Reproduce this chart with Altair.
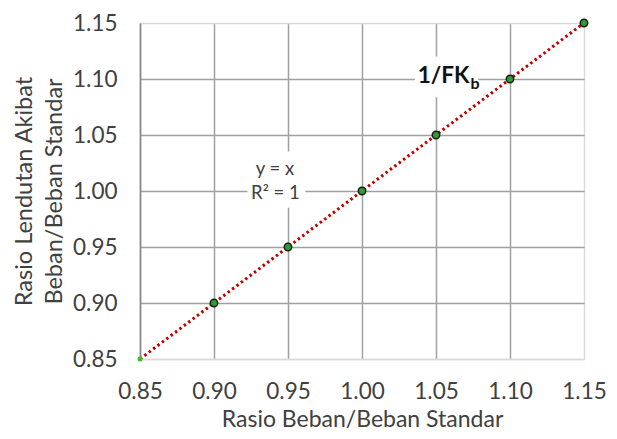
import altair as alt
import pandas as pd

# data
load_ratio = [0.85, 0.90, 0.95, 1.00, 1.05, 1.10, 1.15]
deflection_ratio = [0.85, 0.90, 0.95, 1.00, 1.05, 1.10, 1.15]
ticks = [0.85, 0.90, 0.95, 1.00, 1.05, 1.10, 1.15]

# annotations
eq_labels = ["y = x", "R² = 1"]
eq_x = [0.9412, 0.9415]
eq_y = [1.020, 0.998]
eq_box = {"x": 0.9226, "x2": 0.9617, "y": 1.0353, "y2": 0.985}
fk_main = {"text": "1/FK", "x": 1.0726, "y": 1.1024}
fk_sub = {"text": "b", "x": 1.0733, "y": 1.0955}
fk_box = {"x": 1.0357, "x2": 1.0785, "y": 1.120, "y2": 1.0838}

df = pd.DataFrame({"x": load_ratio, "y": deflection_ratio})
df_first = df.iloc[:1]
df_rest = df.iloc[1:]

FONT = "Lato"
TXT = "#404040"
GRID = "#a0a0a0"
LIGHT = "#d9d9d9"

xs = alt.Scale(domain=[0.85, 1.15], nice=False, zero=False)
ys = alt.Scale(domain=[0.85, 1.15], nice=False, zero=False)

x_axis = alt.Axis(
    values=ticks, format=".2f", ticks=False, labelFontSize=22.5, labelFont=FONT,
    labelColor=TXT, labelPadding=21, title="Rasio Beban/Beban Standar",
    titleFont=FONT, titleFontSize=23, titleFontWeight="normal", titleColor=TXT,
    titlePadding=6, domainColor=LIGHT, domainWidth=1.5,
    gridColor=alt.condition("datum.value > 1.14", alt.value(LIGHT), alt.value(GRID)),
    gridWidth=1.5, labelFlush=False,
)
y_axis = alt.Axis(
    values=ticks, format=".2f", ticks=False, labelFontSize=22.5, labelFont=FONT,
    labelColor=TXT, labelPadding=23, title=["Rasio Lendutan Akibat", "Beban/Beban Standar"],
    titleFont=FONT, titleFontSize=23.5, titleFontWeight="normal", titleColor=TXT,
    titleLineHeight=30, titlePadding=6, domainColor="#888888", domainWidth=1.5,
    gridColor=alt.condition("datum.value > 1.14 || datum.value < 0.86", alt.value(LIGHT), alt.value(GRID)),
    gridWidth=1.5, labelFlush=False,
)

boxes = alt.Chart(pd.DataFrame([eq_box, fk_box])).mark_rect(color="white").encode(
    x=alt.X("x:Q", scale=xs, axis=x_axis), x2="x2:Q",
    y=alt.Y("y:Q", scale=ys, axis=y_axis), y2="y2:Q",
)

line = alt.Chart(df).mark_line(color="#c00000", strokeWidth=3, strokeDash=[2.5, 3]).encode(
    x=alt.X("x:Q", scale=xs), y=alt.Y("y:Q", scale=ys)
)

pts = alt.Chart(df_rest).mark_point(
    filled=True, fill="#2e9e2e", stroke="#1a1a1a", strokeWidth=1.5, size=55, opacity=1
).encode(x=alt.X("x:Q", scale=xs), y=alt.Y("y:Q", scale=ys))

pt0 = alt.Chart(df_first).mark_point(
    filled=True, fill="#44bb22", size=25, opacity=1
).encode(x=alt.X("x:Q", scale=xs), y=alt.Y("y:Q", scale=ys))

eq = alt.Chart(pd.DataFrame({"t": eq_labels, "x": eq_x, "y": eq_y})).mark_text(
    font=FONT, fontSize=18.5, color=TXT, align="center", baseline="middle"
).encode(x=alt.X("x:Q", scale=xs), y=alt.Y("y:Q", scale=ys), text="t:N")

fk1 = alt.Chart(pd.DataFrame([fk_main])).mark_text(
    font=FONT, fontSize=22.5, color="#111111", align="right", baseline="middle", fontWeight="bold"
).encode(x=alt.X("x:Q", scale=xs), y=alt.Y("y:Q", scale=ys), text="text:N")

fk2 = alt.Chart(pd.DataFrame([fk_sub])).mark_text(
    font=FONT, fontSize=16, color="#111111", align="left", baseline="middle", fontWeight="bold"
).encode(x=alt.X("x:Q", scale=xs), y=alt.Y("y:Q", scale=ys), text="text:N")

chart = alt.layer(boxes, line, pts, pt0, eq, fk1, fk2).properties(
    width=444, height=336,
    autosize=alt.AutoSizeParams(type="none"),
    padding={"left": 132, "top": 15, "right": 25, "bottom": 72},
).configure_view(stroke=LIGHT, strokeWidth=1.5).configure(background="white")

chart.save("out.html", embed_options={"renderer": "svg", "actions": False})
